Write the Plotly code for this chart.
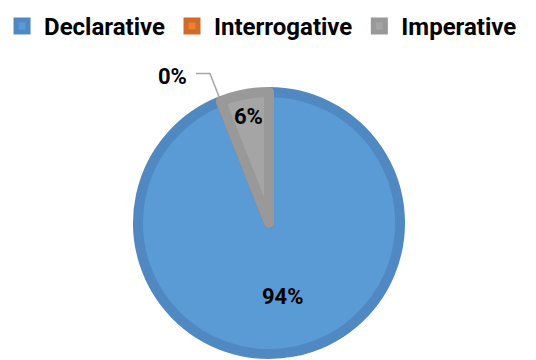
import math
import plotly.graph_objects as go

categories = ["Declarative", "Interrogative", "Imperative"]
values = [94, 0, 6]
fill_colors = ["#5B9BD5", "#ED7D31", "#A5A5A5"]
border_colors = ["#5089C1", "#D06A28", "#999999"]

W, H = 536, 360
cx, cy, R = 269, 223, 131  # pie centre / radius in px
LW = 10
FONT = "Roboto"

fig = go.Figure(go.Pie(
    labels=categories,
    values=values,
    sort=False,
    direction="clockwise",
    rotation=0,
    textinfo="none",
    hoverinfo="label+percent",
    marker=dict(colors=fill_colors, line=dict(color=border_colors, width=LW)),
    domain=dict(x=[(cx - R) / W, (cx + R) / W],
                y=[(H - cy - R) / H, (H - cy + R) / H]),
    showlegend=True,
))

def px2paper(x, y):
    return x / W, 1 - y / H

label_font = dict(size=22, color="black", family=FONT, weight="bold")
total = sum(values)
label_r = {"Declarative": 75, "Imperative": 108}
start = 0.0
annotations = []
shapes = []
for cat, v in zip(categories, values):
    ang = 360 * v / total
    mid = math.radians(start + ang / 2)
    pct = f"{round(100 * v / total)}%"
    if v > 0:
        r = label_r[cat]
        x = cx + r * math.sin(mid)
        y = cy - r * math.cos(mid)
        px, py = px2paper(x, y)
        annotations.append(dict(x=px, y=py, xref="paper", yref="paper", text=pct,
                                xanchor="center", yanchor="middle",
                                showarrow=False, font=label_font))
    else:
        ex = cx + (R + 5) * math.sin(mid)
        ey = cy - (R + 5) * math.cos(mid)
        kx, ky = ex - 9, ey - 23
        lx = kx - 14
        pts = [px2paper(ex, ey), px2paper(kx, ky), px2paper(lx, ky)]
        path = "M {} {} L {} {} L {} {}".format(*[c for p in pts for c in p])
        shapes.append(dict(type="path", path=path, xref="paper", yref="paper",
                           line=dict(color="#A6A6A6", width=1.5)))
        tx, ty = px2paper(lx - 23, ky + 3)
        annotations.append(dict(x=tx, y=ty, xref="paper", yref="paper", text=pct,
                                xanchor="center", yanchor="middle",
                                showarrow=False, font=label_font))
    start += ang

fig.update_layout(
    width=W, height=H,
    margin=dict(l=0, r=0, t=0, b=0),
    paper_bgcolor="white", plot_bgcolor="white",
    font=dict(family=FONT, color="black"),
    legend=dict(orientation="h", x=0.487, xanchor="center", y=1 - 4 / H, yanchor="top",
                font=dict(size=24, family=FONT, weight="bold", color="black"),
                itemwidth=34, traceorder="normal", itemclick=False),
    annotations=annotations,
    shapes=shapes,
)

fig.write_html("out.html")
